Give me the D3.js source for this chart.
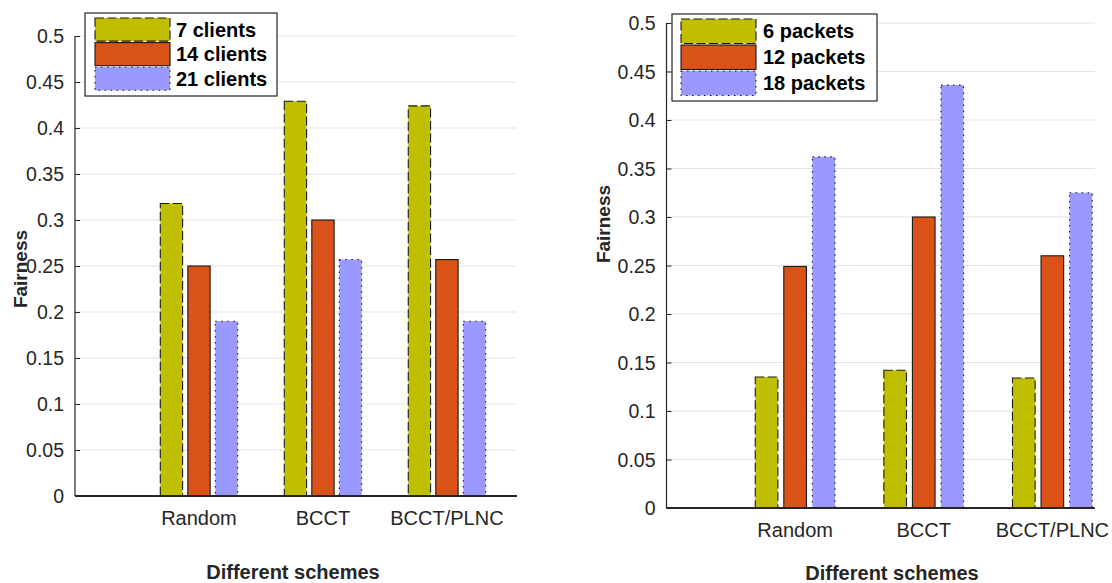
<!DOCTYPE html>
<html>
<head>
<meta charset="utf-8">
<script src="https://cdn.jsdelivr.net/npm/d3@7"></script>
<style>
  html, body { margin: 0; padding: 0; background: #fff; }
  svg { display: block; font-family: "Liberation Sans", Arial, Helvetica, sans-serif; }
</style>
</head>
<body>
<svg id="chart" width="1112" height="583"></svg>
<script>
// ---------- data ----------
const categories = ["Random", "BCCT", "BCCT/PLNC"];
const yTicks = [0, 0.05, 0.1, 0.15, 0.2, 0.25, 0.3, 0.35, 0.4, 0.45, 0.5];
const yTickLabels = ["0", "0.05", "0.1", "0.15", "0.2", "0.25", "0.3", "0.35", "0.4", "0.45", "0.5"];

const leftSeriesNames = ["7 clients", "14 clients", "21 clients"];
const clients7  = [0.318, 0.429, 0.424];
const clients14 = [0.250, 0.300, 0.257];
const clients21 = [0.190, 0.257, 0.190];

const rightSeriesNames = ["6 packets", "12 packets", "18 packets"];
const packets6  = [0.135, 0.142, 0.134];
const packets12 = [0.249, 0.300, 0.260];
const packets18 = [0.362, 0.436, 0.325];

const yTitle = "Fairness";
const xTitle = "Different schemes";

// ---------- styles ----------
const seriesFill = ["#BFBF00", "#D95319", "#9999FF"];
const seriesDash = ["9,3.5", null, "1.5,4.5"];
const edgeColor = "#1a1a1a";
const axisColor = "#262626";
const gridColor = "#e3e3e3";

const svg = d3.select("#chart");

function drawPanel(cfg) {
  const g = svg.append("g");
  const x = d3.scaleLinear().domain(cfg.xDomain).range(cfg.xRange);
  const y = d3.scaleLinear().domain([0, 0.5]).range(cfg.yRange);

  // grid lines
  g.append("g").selectAll("line").data(yTicks.filter(t => t > 0)).join("line")
    .attr("x1", cfg.xRange[0]).attr("x2", cfg.xRange[1])
    .attr("y1", d => y(d)).attr("y2", d => y(d))
    .attr("stroke", gridColor).attr("stroke-width", 1);

  // y axis (ticks inward)
  const yAxis = d3.axisRight(y).tickValues(yTicks).tickSize(5).tickFormat("");
  const ya = g.append("g").attr("transform", `translate(${cfg.xRange[0]},0)`).call(yAxis);
  ya.select(".domain").attr("stroke", axisColor).attr("stroke-width", 1.2)
    .attr("d", `M0,${y(0.5)}V${y(0)}`);
  ya.selectAll(".tick line").attr("stroke", axisColor);

  // tick labels
  g.append("g").selectAll("text").data(yTicks).join("text")
    .attr("x", cfg.xRange[0] - 11)
    .attr("y", d => y(d))
    .attr("dy", "0.36em")
    .attr("text-anchor", "end")
    .attr("font-size", 19.5)
    .attr("fill", axisColor)
    .text((d, i) => yTickLabels[i]);

  // bars
  cfg.series.forEach((vals, si) => {
    g.append("g").selectAll("rect").data(vals).join("rect")
      .attr("x", (d, ci) => x(ci + 1 + cfg.offsets[si] - cfg.barW / 2))
      .attr("width", (d, ci) => x(ci + 1 + cfg.offsets[si] + cfg.barW / 2) - x(ci + 1 + cfg.offsets[si] - cfg.barW / 2))
      .attr("y", d => y(d))
      .attr("height", d => y(0) - y(d))
      .attr("fill", seriesFill[si])
      .attr("stroke", edgeColor)
      .attr("stroke-width", 1.1)
      .attr("stroke-dasharray", seriesDash[si]);
  });

  // x axis line
  g.append("line")
    .attr("x1", cfg.xRange[0]).attr("x2", cfg.xRange[1])
    .attr("y1", y(0)).attr("y2", y(0))
    .attr("stroke", axisColor).attr("stroke-width", 2);

  // category labels
  g.append("g").selectAll("text").data(categories).join("text")
    .attr("x", (d, i) => x(i + 1))
    .attr("y", y(0) + 29)
    .attr("text-anchor", "middle")
    .attr("font-size", 20)
    .attr("fill", axisColor)
    .text(d => d);

  // titles
  g.append("text")
    .attr("x", cfg.xTitlePos[0]).attr("y", cfg.xTitlePos[1])
    .attr("text-anchor", "middle")
    .attr("font-size", 20).attr("font-weight", "bold")
    .attr("fill", axisColor)
    .text(xTitle);
  g.append("text")
    .attr("transform", `translate(${cfg.yTitlePos[0]},${cfg.yTitlePos[1]}) rotate(-90)`)
    .attr("text-anchor", "middle")
    .attr("dy", "0.36em")
    .attr("font-size", 19).attr("font-weight", "bold")
    .attr("fill", axisColor)
    .text(yTitle);

  // legend
  const L = cfg.legend;
  const lg = g.append("g");
  lg.append("rect")
    .attr("x", L.box[0]).attr("y", L.box[1])
    .attr("width", L.box[2]).attr("height", L.box[3])
    .attr("fill", "#fff").attr("stroke", axisColor).attr("stroke-width", 1.2);
  cfg.names.forEach((name, si) => {
    const top = L.rowTop + si * L.rowH;
    lg.append("rect")
      .attr("x", L.swX).attr("y", top)
      .attr("width", L.swW).attr("height", L.rowH - 1.5)
      .attr("fill", seriesFill[si])
      .attr("stroke", edgeColor).attr("stroke-width", 1.1)
      .attr("stroke-dasharray", seriesDash[si]);
    lg.append("text")
      .attr("x", L.textX).attr("y", top + (L.rowH - 1.5) / 2)
      .attr("dy", "0.36em")
      .attr("font-size", 20).attr("font-weight", "bold")
      .attr("fill", "#000")
      .text(name);
  });
}

drawPanel({
  xDomain: [0, 3.565], xRange: [75, 517], yRange: [496, 36],
  series: [clients7, clients14, clients21], names: leftSeriesNames,
  offsets: [-0.222, 0, 0.222], barW: 0.18,
  xTitlePos: [293, 579], yTitlePos: [20, 269],
  legend: { box: [85, 13, 192, 83], swX: 95, swW: 75, rowTop: 18, rowH: 24.6, textX: 176 }
});

drawPanel({
  xDomain: [0, 3.33], xRange: [666.5, 1094.8], yRange: [508, 23],
  series: [packets6, packets12, packets18], names: rightSeriesNames,
  offsets: [-0.222, 0, 0.222], barW: 0.176,
  xTitlePos: [892, 580], yTitlePos: [603, 224],
  legend: { box: [672, 14, 205, 87], swX: 681, swW: 75, rowTop: 19, rowH: 26, textX: 763 }
});
</script>
</body>
</html>
